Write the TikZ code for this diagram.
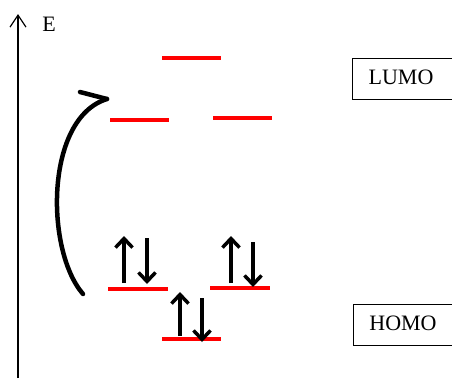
\documentclass[tikz,border=0pt]{standalone}
\usepackage{fontspec}
\setmainfont{Liberation Serif}
\usetikzlibrary{arrows.meta}
\begin{document}
\begin{tikzpicture}[x=1pt,y=-1pt,
  level/.style={red,line width=4pt},
  spin/.style={line width=3.5pt,-{Straight Barb[length=9pt,width=17pt,line width=3.5pt]}},
  label/.style={draw,line width=1.2pt,inner sep=0pt,minimum height=41pt},
  txt/.style={font=\fontsize{22}{24}\selectfont}]
\useasboundingbox (0,0) rectangle (452,378);
\clip (0,0) rectangle (452,378);
% energy axis
\coordinate (ax0) at (18,378);
\coordinate (ax1) at (18,14);
\draw[line width=1.2pt,-{Straight Barb[length=12pt,width=16pt,line width=1.2pt]}] (ax0) -- (ax1);
\node[txt] (E) at (49,24) {E};
% unoccupied levels
\draw[level] (162,58) coordinate (u1a) -- (221,58) coordinate (u1b);
\draw[level] (110,120) coordinate (u2a) -- (169,120) coordinate (u2b);
\draw[level] (213,118) coordinate (u3a) -- (272,118) coordinate (u3b);
% occupied levels
\draw[level] (108,289) coordinate (o1a) -- (168,289) coordinate (o1b);
\draw[level] (210,288) coordinate (o2a) -- (270,288) coordinate (o2b);
\draw[level] (162,339) coordinate (o3a) -- (221,339) coordinate (o3b);
% paired electrons
\draw[spin] (124,283) -- (124,236);
\draw[spin] (147,238) -- (147,284);
\draw[spin] (231,283) -- (231,236);
\draw[spin] (253,242) -- (253,287);
\draw[spin] (180,336) -- (180,292);
\draw[spin] (202,298) -- (202,342);
% excitation arrow
\coordinate (ex0) at (83,294);
\coordinate (ex1) at (107,99);
\draw[line width=4.5pt,line cap=round] (ex0) .. controls (45,250) and (45,118) .. (ex1);
\draw[line width=4.5pt,line cap=round] (80,92) -- (ex1);
% labels
\node[label,anchor=north west,minimum width=110pt] (lumo) at (352,58) {};
\node[txt] at (401,77) {LUMO};
\node[label,anchor=north west,minimum width=110pt] (homo) at (353,304) {};
\node[txt] at (403,323) {HOMO};
\end{tikzpicture}
\end{document}
